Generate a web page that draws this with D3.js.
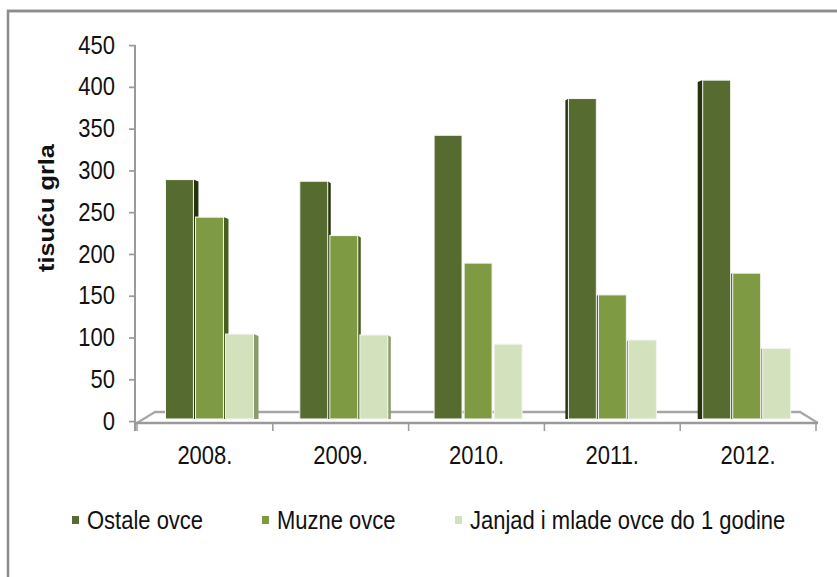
<!DOCTYPE html>
<html>
<head>
<meta charset="utf-8">
<script src="https://cdn.jsdelivr.net/npm/d3@7"></script>
<style>
  body { margin: 0; background: #fff; }
  svg { display: block; font-family: "Liberation Sans", Arial, sans-serif; }
</style>
</head>
<body>
<div id="ChartContainer"></div>
<script>
var years = ["2008.", "2009.", "2010.", "2011.", "2012."]
var seriesNames = ["Ostale ovce", "Muzne ovce", "Janjad i mlade ovce do 1 godine"]
var ostaleOvce = [289, 287, 342, 386, 408]
var muzneOvce = [244, 222, 189, 151, 177]
var janjad = [104, 103, 92, 97, 87]
var yTicks = [0, 50, 100, 150, 200, 250, 300, 350, 400, 450]
var yLabel = "tisuću grla"

var seriesValues = [ostaleOvce, muzneOvce, janjad]
var colors = ["#566b2f", "#7e9b43", "#d3e1bd"]
var sideColors = ["#26330e", "#4a5e22", "#8d9c70"]

// the reference text is a bit taller than wide, so stretch y a little
var SY = 1.15
var py = v => v / SY

var fullWidth = 837
var fullHeight = 577

var svg = d3.select("#ChartContainer").append("svg")
  .attr("width", fullWidth)
  .attr("height", fullHeight)
  .attr("viewBox", `0 0 ${fullWidth} ${py(fullHeight)}`)
  .attr("preserveAspectRatio", "none")

// outer frame
svg.append("rect")
  .attr("x", 8)
  .attr("y", py(11))
  .attr("width", 840)
  .attr("height", py(600))
  .attr("fill", "#fff")
  .attr("stroke", "#8c8c8c")
  .attr("stroke-width", 2.5)

var x0 = d3.scaleBand()
  .domain(years)
  .range([137, 816])
var x1 = d3.scaleBand()
  .domain(seriesNames)
  .range([0, 88])
  .paddingInner(0.07)
var y = d3.scaleLinear()
  .domain([0, 450])
  .range([py(421), py(45)])

var barBottom = py(419)

// 3D floor
svg.append("path")
  .attr("d", `M137,${py(423)} L155,${py(412)} L800,${py(412)} L818,${py(423)}`)
  .attr("fill", "none")
  .attr("stroke", "#a6a6a6")
  .attr("stroke-width", 2)

// bars
var rows = []
years.forEach((yr, i) => {
  seriesValues.forEach((vals, s) => {
    rows.push({ year: yr, i: i, s: s, name: seriesNames[s], value: vals[i] })
  })
})

var sideW = [5, 3, 0, 3, 5]
var groupOffset = i => 25.5 - (i - 2) * 1.5
var barX = d => x0(d.year) + groupOffset(d.i) + x1(d.name)

var bars = svg.append("g")

// side faces
bars.selectAll(".Side")
  .data(rows.filter(d => sideW[d.i] > 0))
  .enter().append("path")
  .attr("class", "Side")
  .attr("fill", d => sideColors[d.s])
  .attr("d", d => {
    var w = sideW[d.i]
    var top = y(d.value)
    if (d.i < 2) {
      var xr = barX(d) + x1.bandwidth()
      return `M${xr},${top} L${xr + w},${top + py(2)} L${xr + w},${barBottom} L${xr},${barBottom} Z`
    }
    var xl = barX(d)
    return `M${xl},${top} L${xl - w},${top + py(2)} L${xl - w},${barBottom} L${xl},${barBottom} Z`
  })

bars.selectAll(".Bar")
  .data(rows)
  .enter().append("rect")
  .attr("class", "Bar")
  .attr("x", barX)
  .attr("y", d => y(d.value))
  .attr("width", x1.bandwidth())
  .attr("height", d => barBottom - y(d.value))
  .attr("fill", d => colors[d.s])
  .attr("stroke", "#f4f6ef")
  .attr("stroke-width", 1)

// x-axis front line and ticks
var xAxis = svg.append("g")
xAxis.append("line")
  .attr("x1", 135)
  .attr("x2", 818)
  .attr("y1", py(423))
  .attr("y2", py(423))
  .attr("stroke", "#9a9a9a")
  .attr("stroke-width", 2)
xAxis.selectAll(".XTick")
  .data(years.map(x0).concat([x0.range()[1]]))
  .enter().append("line")
  .attr("x1", d => d)
  .attr("x2", d => d)
  .attr("y1", py(423))
  .attr("y2", py(431))
  .attr("stroke", "#9a9a9a")
  .attr("stroke-width", 1.5)
xAxis.selectAll(".XLabel")
  .data(years)
  .enter().append("text")
  .attr("x", d => x0(d) + x0.bandwidth() / 2)
  .attr("y", py(455))
  .attr("text-anchor", "middle")
  .attr("dominant-baseline", "central")
  .attr("font-size", "22px")
  .attr("fill", "#111")
  .text(d => d)

// y-axis
var yAxis = svg.append("g")
  .attr("transform", "translate(135,0)")
  .call(d3.axisLeft(y)
    .tickValues(yTicks)
    .tickSize(6)
    .tickSizeOuter(0)
    .tickPadding(14))
yAxis.select(".domain").remove()
yAxis.append("line")
  .attr("y1", py(45))
  .attr("y2", py(431))
  .attr("stroke", "#9a9a9a")
  .attr("stroke-width", 2)
yAxis.selectAll(".tick line")
  .attr("stroke", "#9a9a9a")
  .attr("stroke-width", 1.5)
yAxis.selectAll(".tick text")
  .attr("font-size", "22px")
  .attr("font-family", "\"Liberation Sans\", Arial, sans-serif")
  .attr("fill", "#111")

// y-axis label
svg.append("text")
  .attr("transform", `translate(47,${py(208)}) rotate(-90)`)
  .attr("text-anchor", "middle")
  .attr("dominant-baseline", "central")
  .attr("font-size", "22px")
  .attr("font-weight", "bold")
  .attr("fill", "#111")
  .text(yLabel)

// legend
var legendX = [72, 262, 455]
var legend = svg.selectAll(".Legend")
  .data(seriesNames)
  .enter().append("g")
  .attr("class", "Legend")
  .attr("transform", (d, i) => `translate(${legendX[i]},${py(520)})`)
legend.append("rect")
  .attr("x", 0)
  .attr("y", py(-4))
  .attr("width", 7)
  .attr("height", py(8))
  .attr("fill", (d, i) => colors[i])
legend.append("text")
  .attr("x", 15)
  .attr("y", 0)
  .attr("dominant-baseline", "central")
  .attr("font-size", "22px")
  .attr("fill", "#111")
  .text(d => d)
</script>
</body>
</html>
